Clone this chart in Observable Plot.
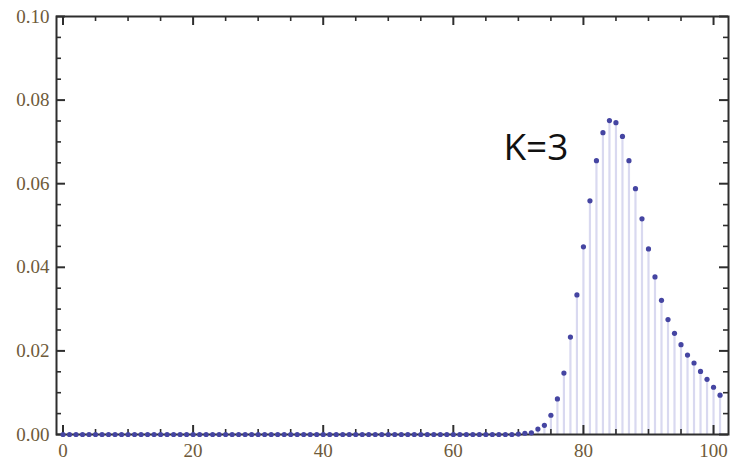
<!DOCTYPE html>
<html>
<head>
<meta charset="utf-8">
<script src="https://cdn.jsdelivr.net/npm/d3@7"></script>
<script src="https://cdn.jsdelivr.net/npm/@observablehq/plot@0.6"></script>
<style>
  body { margin: 0; background: #fff; }
</style>
</head>
<body>
<div id="chart"></div>
<script>
// Outcome k and its probability P(k) for K=3
const ks = [
  0, 1, 2, 3, 4, 5, 6, 7, 8, 9, 10, 11, 12, 13, 14, 15, 16, 17, 18, 19,
  20, 21, 22, 23, 24, 25, 26, 27, 28, 29, 30, 31, 32, 33, 34, 35, 36, 37, 38, 39,
  40, 41, 42, 43, 44, 45, 46, 47, 48, 49, 50, 51, 52, 53, 54, 55, 56, 57, 58, 59,
  60, 61, 62, 63, 64, 65, 66, 67, 68, 69, 70, 71, 72, 73, 74, 75, 76, 77, 78, 79,
  80, 81, 82, 83, 84, 85, 86, 87, 88, 89, 90, 91, 92, 93, 94, 95, 96, 97, 98, 99,
  100, 101
];
const probs = [
  0, 0, 0, 0, 0, 0, 0, 0, 0, 0, 0, 0, 0, 0, 0, 0, 0, 0, 0, 0,
  0, 0, 0, 0, 0, 0, 0, 0, 0, 0, 0, 0, 0, 0, 0, 0, 0, 0, 0, 0,
  0, 0, 0, 0, 0, 0, 0, 0, 0, 0, 0, 0, 0, 0, 0, 0, 0, 0, 0, 0,
  0, 0, 0, 0, 0, 0, 0, 0, 0, 0, 0.0001, 0.0003, 0.0004, 0.0013, 0.0022, 0.0046, 0.0085, 0.0147, 0.0233, 0.0334,
  0.0449, 0.0559, 0.0655, 0.0722, 0.0751, 0.0746, 0.0713, 0.0655, 0.0588, 0.0516, 0.0444, 0.0377, 0.0321, 0.0275, 0.0242, 0.0215, 0.0190, 0.0171, 0.0151, 0.0132,
  0.0113, 0.0094
];

// Tick positions (major ones carry labels)
const xMajor = [0, 20, 40, 60, 80, 100];
const xMinor = [5, 10, 15, 25, 30, 35, 45, 50, 55, 65, 70, 75, 85, 90, 95];
const yMajor = [0, 0.02, 0.04, 0.06, 0.08, 0.10];
const yMinor = [0.005, 0.01, 0.015, 0.025, 0.03, 0.035, 0.045, 0.05, 0.055,
                0.065, 0.07, 0.075, 0.085, 0.09, 0.095];

const note = "K=3";
const noteAt = {k: 67.7, p: 0.0686};

const data = ks.map((k, i) => ({k, p: probs[i]}));

const W = 730, H = 463;
const mt = 16, mb = 29, ml = 56, mr = 2;
const innerW = W - ml - mr;
const innerH = H - mt - mb;
const majorLen = 9, minorLen = 5;
const frameColor = "#2e2e2e";
const labelColor = "#6e5a3a";
const labelFont = "'Liberation Serif', 'DejaVu Serif', serif";

// inward tick marks along one side of the frame: a rule inset to the tick length
function ticks(values, dim, side, len, width) {
  const inset = (dim === "x" ? innerH : innerW) - len;
  const opts = {stroke: frameColor, strokeWidth: width};
  opts[dim] = d => d;
  opts[side] = inset;
  return dim === "x" ? Plot.ruleX(values, opts) : Plot.ruleY(values, opts);
}

const chart = Plot.plot({
  width: W,
  height: H,
  marginTop: mt,
  marginBottom: mb,
  marginLeft: ml,
  marginRight: mr,
  style: {background: "#fff", fontFamily: labelFont, fontSize: "19px"},
  x: {domain: [-1, 102.3], axis: null},
  y: {domain: [0, 0.1], axis: null},
  marks: [
    // stems down to the axis
    Plot.ruleX(data, {x: "k", y: "p", stroke: "#d9d9f0", strokeWidth: 2.2}),
    Plot.frame({stroke: frameColor, strokeWidth: 2}),
    ticks(xMajor, "x", "insetTop", majorLen, 2),
    ticks(xMinor, "x", "insetTop", minorLen, 1.6),
    ticks(xMajor, "x", "insetBottom", majorLen, 2),
    ticks(xMinor, "x", "insetBottom", minorLen, 1.6),
    ticks(yMajor, "y", "insetRight", majorLen, 2),
    ticks(yMinor, "y", "insetRight", minorLen, 1.6),
    ticks(yMajor, "y", "insetLeft", majorLen, 2),
    ticks(yMinor, "y", "insetLeft", minorLen, 1.6),
    // tick labels
    Plot.text(xMajor, {
      x: d => d, frameAnchor: "bottom", dy: 16, text: d => String(d),
      lineAnchor: "middle", fontFamily: labelFont, fontSize: 19, fill: labelColor
    }),
    Plot.text(yMajor, {
      y: d => d, frameAnchor: "left", dx: -7, text: d => d.toFixed(2),
      textAnchor: "end", lineAnchor: "middle", fontFamily: labelFont, fontSize: 19, fill: labelColor
    }),
    // probability points
    Plot.dot(data, {x: "k", y: "p", r: 2.6, fill: "#4545a2", stroke: "none"}),
    Plot.text([note], {
      x: () => noteAt.k, y: () => noteAt.p, text: d => d,
      textAnchor: "start", lineAnchor: "middle",
      fontFamily: "'Liberation Sans Narrow', 'Open Sans', sans-serif",
      fontSize: 37, fill: "#111"
    })
  ]
});

document.getElementById("chart").appendChild(chart);
</script>
</body>
</html>
